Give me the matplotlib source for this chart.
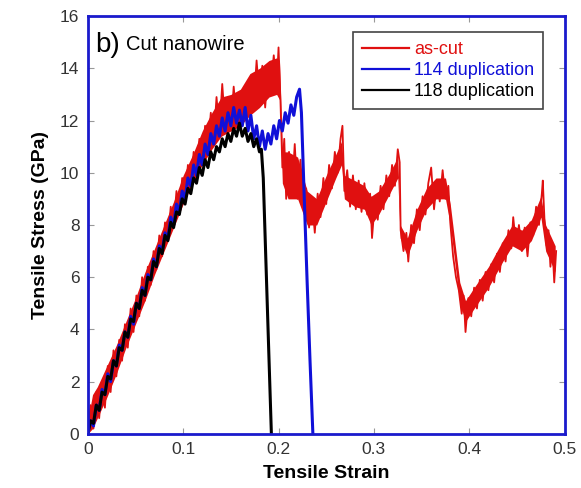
#!/usr/bin/env python
# -*- coding: utf-8 -*-

import matplotlib
matplotlib.use('Agg')  # Use non-interactive backend
import matplotlib.pyplot as plt

plt.rcParams['font.family'] = ['Liberation Sans', 'DejaVu Sans']

# as-cut curve (strain, stress in GPa), noise spikes included
ascut_strain = [
    0.000, 0.003, 0.006, 0.009, 0.012, 0.015, 0.018, 0.021, 0.024, 0.027,
    0.030, 0.033, 0.036, 0.039, 0.042, 0.045, 0.048, 0.051, 0.054, 0.057,
    0.060, 0.063, 0.066, 0.069, 0.072, 0.075, 0.078, 0.081, 0.084, 0.087,
    0.090, 0.093, 0.096, 0.099, 0.102, 0.105, 0.108, 0.111, 0.114, 0.117,
    0.120, 0.123, 0.126, 0.129, 0.132, 0.135, 0.138, 0.141, 0.144, 0.147,
    0.150, 0.153, 0.156, 0.159, 0.162, 0.165, 0.168, 0.171, 0.174, 0.177,
    0.180, 0.183, 0.186, 0.189, 0.192, 0.195, 0.198, 0.200, 0.202, 0.204,
    0.206, 0.208, 0.211, 0.214, 0.217, 0.220, 0.223, 0.226, 0.229, 0.232,
    0.235, 0.238, 0.241, 0.244, 0.247, 0.250, 0.253, 0.256, 0.259, 0.262,
    0.265, 0.267, 0.269, 0.272, 0.275, 0.278, 0.281, 0.284, 0.287, 0.290,
    0.293, 0.296, 0.298, 0.301, 0.304, 0.307, 0.310, 0.313, 0.316, 0.319,
    0.322, 0.325, 0.327, 0.328, 0.331, 0.334, 0.336, 0.339, 0.342, 0.345,
    0.348, 0.351, 0.354, 0.357, 0.360, 0.363, 0.366, 0.369, 0.372, 0.375,
    0.378, 0.380, 0.383, 0.386, 0.389, 0.392, 0.394, 0.396, 0.399, 0.402,
    0.405, 0.408, 0.411, 0.414, 0.417, 0.420, 0.423, 0.426, 0.429, 0.432,
    0.435, 0.438, 0.441, 0.444, 0.446, 0.449, 0.452, 0.455, 0.458, 0.461,
    0.464, 0.467, 0.470, 0.473, 0.476, 0.477, 0.479, 0.481, 0.483, 0.485,
    0.487, 0.489, 0.491,
]
ascut_stress = [
    0.0, 1.1, 0.2, 1.6, 0.6, 2.0, 1.0, 2.6, 1.6, 3.2,
    2.2, 3.6, 2.8, 4.2, 3.3, 4.8, 3.9, 5.3, 4.5, 6.0,
    5.1, 6.4, 5.7, 7.0, 6.3, 7.6, 6.8, 8.1, 7.4, 8.7,
    7.9, 9.3, 8.5, 9.8, 9.0, 10.3, 9.4, 10.8, 9.9, 11.3,
    10.3, 11.8, 10.8, 12.3, 11.2, 12.9, 11.6, 13.4, 11.8, 12.9,
    11.7, 13.3, 12.0, 12.8, 11.9, 13.1, 12.2, 13.6, 12.6, 14.3,
    12.9, 14.1, 12.5, 14.0, 13.3, 14.5, 13.2, 14.8, 12.8, 10.2,
    11.3, 9.0, 10.8, 9.2, 11.1, 9.0, 10.5, 8.6, 9.4, 7.9,
    9.0, 7.7, 9.2, 8.3, 9.8, 8.8, 10.3, 9.4, 10.8, 10.0,
    11.3, 11.8, 9.3, 10.1, 8.7, 9.9, 8.6, 9.7, 8.5, 9.6,
    8.4, 9.2, 7.5, 8.9, 8.2, 9.5, 8.6, 9.9, 9.1, 10.3,
    9.5, 10.9, 10.4, 7.8, 7.0, 7.7, 6.6, 8.0, 7.3, 8.6,
    7.8, 9.1, 8.4, 9.6, 10.2, 8.6, 9.7, 8.9, 10.1, 9.0,
    9.5, 8.1, 6.8, 6.0, 5.5, 4.6, 5.3, 3.9, 5.2, 4.5,
    5.6, 4.8, 5.9, 5.1, 6.2, 5.5, 6.5, 5.8, 6.9, 6.2,
    7.3, 6.6, 7.8, 7.1, 8.3, 7.2, 8.0, 7.0, 7.9, 6.8,
    8.1, 7.6, 8.7, 8.0, 9.2, 9.7, 8.0, 7.2, 7.8, 6.4,
    7.3, 5.8, 7.0,
]

# dense noise band of the as-cut curve: lower and upper edge
band_strain = [
    0.000, 0.005, 0.010, 0.020, 0.030, 0.040, 0.050, 0.060, 0.070, 0.080,
    0.090, 0.100, 0.110, 0.120, 0.130, 0.140, 0.150, 0.160, 0.170, 0.180,
    0.190, 0.198, 0.201, 0.204, 0.210, 0.220, 0.230, 0.240, 0.250, 0.260,
    0.266, 0.269, 0.280, 0.290, 0.297, 0.305, 0.315, 0.325, 0.3275, 0.335,
    0.345, 0.355, 0.365, 0.375, 0.380, 0.390, 0.396, 0.405, 0.420, 0.435,
    0.445, 0.455, 0.465, 0.475, 0.480, 0.490,
]
band_low = [
    0.0, 0.2, 0.6, 1.4, 2.3, 3.3, 4.2, 5.1, 6.1, 7.0,
    7.9, 8.8, 9.6, 10.3, 10.9, 11.4, 11.6, 11.8, 12.2, 12.5,
    12.9, 13.0, 12.8, 9.6, 9.0, 9.0, 8.0, 8.0, 8.9, 9.8,
    10.3, 9.0, 8.7, 8.6, 8.0, 8.4, 9.1, 9.8, 7.5, 6.8,
    7.8, 8.6, 9.0, 9.0, 8.0, 5.0, 4.3, 4.8, 5.6, 6.6,
    7.2, 7.0, 7.4, 8.3, 7.0, 6.2,
]
band_high = [
    0.5, 1.5, 1.8, 2.6, 3.4, 4.3, 5.2, 6.2, 7.1, 8.0,
    8.9, 9.9, 10.7, 11.6, 12.3, 12.9, 13.0, 13.2, 13.8, 14.0,
    14.3, 14.4, 14.3, 10.8, 10.8, 10.6, 9.3, 9.0, 9.9, 10.7,
    11.2, 9.9, 9.7, 9.5, 9.1, 9.3, 9.9, 10.6, 8.0, 7.5,
    8.6, 9.4, 9.8, 9.8, 8.8, 5.8, 5.1, 5.6, 6.4, 7.4,
    8.0, 7.8, 8.2, 9.1, 8.0, 7.2,
]

# 114 duplication curve
dup114_strain = [
    0.000, 0.003, 0.006, 0.009, 0.012, 0.015, 0.018, 0.021, 0.024, 0.027,
    0.030, 0.033, 0.036, 0.039, 0.042, 0.045, 0.048, 0.051, 0.054, 0.057,
    0.060, 0.063, 0.066, 0.069, 0.072, 0.075, 0.078, 0.081, 0.084, 0.087,
    0.090, 0.093, 0.096, 0.099, 0.102, 0.105, 0.108, 0.111, 0.114, 0.117,
    0.120, 0.123, 0.126, 0.129, 0.132, 0.135, 0.138, 0.141, 0.144, 0.147,
    0.150, 0.153, 0.156, 0.159, 0.162, 0.165, 0.168, 0.171, 0.174, 0.177,
    0.180, 0.183, 0.186, 0.189, 0.192, 0.195, 0.198, 0.201, 0.204, 0.207,
    0.210, 0.213, 0.216, 0.219, 0.222, 0.224, 0.227, 0.230, 0.233, 0.236,
]
dup114_stress = [
    0.0, 0.5, 0.3, 1.1, 0.9, 1.7, 1.5, 2.3, 2.0, 2.8,
    2.6, 3.4, 3.2, 3.9, 3.7, 4.5, 4.2, 5.0, 4.8, 5.6,
    5.3, 6.1, 5.9, 6.7, 6.4, 7.2, 7.0, 7.7, 7.5, 8.3,
    8.0, 8.8, 8.5, 9.3, 9.0, 9.8, 9.5, 10.3, 9.9, 10.7,
    10.3, 11.1, 10.7, 11.5, 11.1, 11.8, 11.4, 12.1, 11.6, 12.3,
    11.8, 12.5, 11.9, 12.4, 11.8, 12.5, 11.6, 12.2, 11.3, 11.8,
    11.0, 11.6, 10.9, 11.5, 11.1, 11.8, 11.3, 12.0, 11.6, 12.3,
    11.9, 12.6, 12.2, 12.9, 13.2, 12.3, 9.0, 5.8, 2.8, 0.0,
]

# 118 duplication curve
dup118_strain = [
    0.000, 0.003, 0.006, 0.009, 0.012, 0.015, 0.018, 0.021, 0.024, 0.027,
    0.030, 0.033, 0.036, 0.039, 0.042, 0.045, 0.048, 0.051, 0.054, 0.057,
    0.060, 0.063, 0.066, 0.069, 0.072, 0.075, 0.078, 0.081, 0.084, 0.087,
    0.090, 0.093, 0.096, 0.099, 0.102, 0.105, 0.108, 0.111, 0.114, 0.117,
    0.120, 0.123, 0.126, 0.129, 0.132, 0.135, 0.138, 0.141, 0.144, 0.147,
    0.150, 0.153, 0.156, 0.159, 0.162, 0.165, 0.168, 0.171, 0.174, 0.177,
    0.180, 0.182, 0.184, 0.1925,
]
dup118_stress = [
    0.0, 0.5, 0.4, 1.1, 0.9, 1.6, 1.5, 2.2, 2.1, 2.8,
    2.6, 3.3, 3.2, 3.9, 3.7, 4.4, 4.3, 5.0, 4.8, 5.5,
    5.3, 6.0, 5.9, 6.6, 6.4, 7.1, 6.9, 7.6, 7.4, 8.1,
    7.9, 8.5, 8.4, 9.0, 8.8, 9.4, 9.2, 9.8, 9.6, 10.2,
    9.9, 10.5, 10.2, 10.8, 10.5, 11.0, 10.8, 11.3, 11.0, 11.5,
    11.2, 11.7, 11.4, 11.9, 11.4, 11.7, 11.2, 11.5, 11.0, 11.3,
    10.8, 10.9, 9.8, 0.0,
]

x_ticks = [0, 0.1, 0.2, 0.3, 0.4, 0.5]
x_tick_labels = ['0', '0.1', '0.2', '0.3', '0.4', '0.5']
y_ticks = [0, 2, 4, 6, 8, 10, 12, 14, 16]

RED = '#e01010'
BLUE = '#1010d8'


def generate_stress_strain_chart(output_path='out.png'):
    fig = plt.figure(figsize=(5.81, 4.88), dpi=100)
    ax = fig.add_axes([0.151, 0.111, 0.821, 0.856])

    ax.fill_between(band_strain, band_low, band_high, color=RED, lw=0)
    ax.plot(ascut_strain, ascut_stress, color=RED, lw=1.3, label='as-cut')
    ax.plot(dup114_strain, dup114_stress, color=BLUE, lw=2.2, label='114 duplication')
    ax.plot(dup118_strain, dup118_stress, color='black', lw=2.2, label='118 duplication')

    ax.set_xlim(0, 0.5)
    ax.set_ylim(0, 16)
    ax.set_xticks(x_ticks)
    ax.set_xticklabels(x_tick_labels)
    ax.set_yticks(y_ticks)
    ax.tick_params(direction='in', length=4, width=0.8, color='#999999',
                   top=True, right=True, labelsize=12.5, pad=6,
                   labelcolor='#333333')
    for spine in ax.spines.values():
        spine.set_color('#1a1acc')
        spine.set_linewidth(2)

    ax.set_xlabel('Tensile Strain', fontsize=14, fontweight='bold', labelpad=6)
    ax.set_ylabel('Tensile Stress (GPa)', fontsize=14, fontweight='bold', labelpad=8)

    ax.text(0.016, 0.915, 'b)', transform=ax.transAxes, fontsize=20)
    ax.text(0.08, 0.918, 'Cut nanowire', transform=ax.transAxes, fontsize=14.5)

    leg = ax.legend(loc='upper right', bbox_to_anchor=(0.955, 0.962),
                    borderaxespad=0, fontsize=13, handlelength=2.6,
                    handletextpad=0.3, labelspacing=0.22, borderpad=0.5,
                    fancybox=False, framealpha=1, edgecolor='#444444')
    leg.get_frame().set_linewidth(1.2)
    for text, line in zip(leg.get_texts(), leg.get_lines()):
        text.set_color(line.get_color())
        line.set_linewidth(1.6)

    fig.savefig(output_path, dpi=100)
    plt.close(fig)
    return output_path


generate_stress_strain_chart()
